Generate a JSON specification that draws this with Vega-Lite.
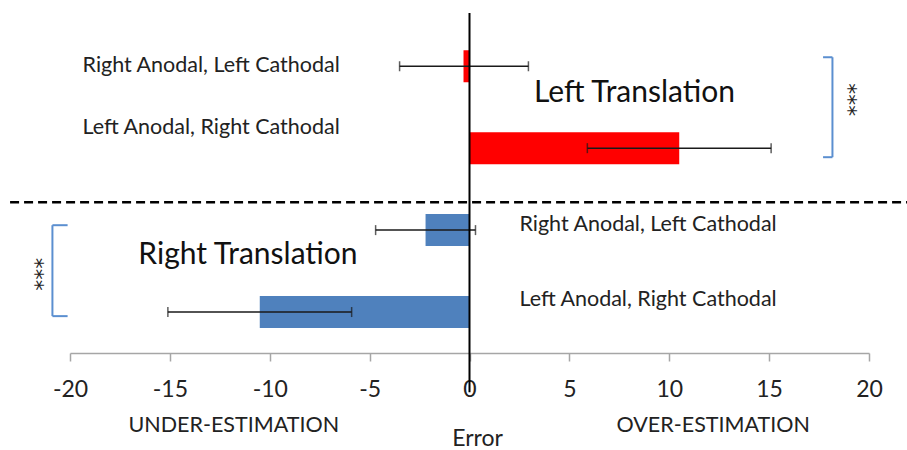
{
  "$schema": "https://vega.github.io/schema/vega-lite/v6.json",
  "width": 799,
  "height": 340,
  "autosize": "none",
  "padding": {"left": 70, "top": 13, "right": 38, "bottom": 97},
  "background": "white",
  "config": {"view": {"stroke": null}, "font": "Lato"},
  "datasets": {
    "bars": [
      {"group": "Left Translation", "condition": "Right Anodal, Left Cathodal", "pos": 3.5, "mean": -0.3, "lo": -3.5, "hi": 2.95},
      {"group": "Left Translation", "condition": "Left Anodal, Right Cathodal", "pos": 2.5, "mean": 10.5, "lo": 5.9, "hi": 15.1},
      {"group": "Right Translation", "condition": "Right Anodal, Left Cathodal", "pos": 1.5, "mean": -2.2, "lo": -4.7, "hi": 0.3},
      {"group": "Right Translation", "condition": "Left Anodal, Right Cathodal", "pos": 0.5, "mean": -10.5, "lo": -15.1, "hi": -5.9}
    ],
    "rowLabels": [
      {"text": "Right Anodal, Left Cathodal", "x": -19.37, "y": 3.5},
      {"text": "Left Anodal, Right Cathodal", "x": -19.37, "y": 2.75},
      {"text": "Right Anodal, Left Cathodal", "x": 2.5, "y": 1.56},
      {"text": "Left Anodal, Right Cathodal", "x": 2.5, "y": 0.65}
    ],
    "groupLabels": [
      {"text": "Left Translation", "x": 8.26, "y": 3.17},
      {"text": "Right Translation", "x": -11.09, "y": 1.2}
    ],
    "estLabels": [
      {"text": "UNDER-ESTIMATION", "x": -11.8, "y": -0.89},
      {"text": "OVER-ESTIMATION", "x": 12.2, "y": -0.89}
    ],
    "stars": [
      {"text": "***", "x": 18.97, "y": 3.09},
      {"text": "***", "x": -21.73, "y": 0.96}
    ],
    "brackets": [
      {"x": 18.17, "x2": 18.17, "y": 3.61, "y2": 2.39},
      {"x": 17.7, "x2": 18.17, "y": 3.61, "y2": 3.61},
      {"x": 17.7, "x2": 18.17, "y": 2.39, "y2": 2.39},
      {"x": -20.88, "x2": -20.88, "y": 1.56, "y2": 0.45},
      {"x": -20.88, "x2": -20.12, "y": 1.56, "y2": 1.56},
      {"x": -20.88, "x2": -20.12, "y": 0.45, "y2": 0.45}
    ],
    "zeroLine": [{"x": 0, "y": -0.48, "y2": 4.15}],
    "divider": [{"x": -23, "x2": 22.5, "y": 1.84}]
  },
  "layer": [
    {
      "data": {"name": "bars"},
      "mark": {"type": "bar", "size": 32},
      "encoding": {
        "x": {
          "field": "mean",
          "type": "quantitative",
          "scale": {"domain": [-20, 20], "nice": false, "zero": false, "padding": 0},
          "axis": {
            "title": "Error",
            "values": [-20, -15, -10, -5, 0, 5, 10, 15, 20],
            "labelExpr": "replace(datum.label, '−', '-')",
            "labelFlush": false,
            "labelOverlap": false,
            "grid": false,
            "domainColor": "#a6a6a6",
            "domainWidth": 1.5,
            "tickColor": "#a6a6a6",
            "tickWidth": 1.5,
            "tickSize": 8,
            "labelFontSize": 23,
            "labelColor": "#222222",
            "labelPadding": 17,
            "titleFontSize": 23,
            "titleFontWeight": "normal",
            "titleColor": "#222222",
            "titlePadding": 26,
            "titleX": 407
          }
        },
        "x2": {"datum": 0},
        "y": {"field": "pos", "type": "quantitative", "scale": {"domain": [0, 4.15], "nice": false, "zero": false, "padding": 0}, "axis": null},
        "color": {"field": "group", "type": "nominal", "scale": {"domain": ["Left Translation", "Right Translation"], "range": ["#ff0000", "#4f81bd"]}, "legend": null}
      }
    },
    {
      "data": {"name": "bars"},
      "mark": {"type": "rule", "color": "#1a1a1a", "strokeWidth": 1.5},
      "encoding": {
        "x": {"field": "lo", "type": "quantitative"},
        "x2": {"field": "hi"},
        "y": {"field": "pos", "type": "quantitative"}
      }
    },
    {
      "data": {"name": "bars"},
      "mark": {"type": "tick", "orient": "vertical", "color": "#1a1a1a", "size": 10, "thickness": 1.5},
      "encoding": {
        "x": {"field": "lo", "type": "quantitative"},
        "y": {"field": "pos", "type": "quantitative"}
      }
    },
    {
      "data": {"name": "bars"},
      "mark": {"type": "tick", "orient": "vertical", "color": "#1a1a1a", "size": 10, "thickness": 1.5},
      "encoding": {
        "x": {"field": "hi", "type": "quantitative"},
        "y": {"field": "pos", "type": "quantitative"}
      }
    },
    {
      "data": {"name": "zeroLine"},
      "mark": {"type": "rule", "color": "#000000", "strokeWidth": 2},
      "encoding": {
        "x": {"field": "x", "type": "quantitative"},
        "y": {"field": "y", "type": "quantitative"},
        "y2": {"field": "y2"}
      }
    },
    {
      "data": {"name": "divider"},
      "mark": {"type": "rule", "color": "#000000", "strokeWidth": 2.5, "strokeDash": [9, 5]},
      "encoding": {
        "x": {"field": "x", "type": "quantitative"},
        "x2": {"field": "x2"},
        "y": {"field": "y", "type": "quantitative"}
      }
    },
    {
      "data": {"name": "brackets"},
      "mark": {"type": "rule", "color": "#5b8fd0", "strokeWidth": 2},
      "encoding": {
        "x": {"field": "x", "type": "quantitative"},
        "x2": {"field": "x2"},
        "y": {"field": "y", "type": "quantitative"},
        "y2": {"field": "y2"}
      }
    },
    {
      "data": {"name": "rowLabels"},
      "mark": {"type": "text", "align": "left", "baseline": "middle", "fontSize": 21.5, "color": "#222222"},
      "encoding": {
        "x": {"field": "x", "type": "quantitative"},
        "y": {"field": "y", "type": "quantitative"},
        "text": {"field": "text"}
      }
    },
    {
      "data": {"name": "groupLabels"},
      "mark": {"type": "text", "align": "center", "baseline": "middle", "fontSize": 30, "color": "#111111"},
      "encoding": {
        "x": {"field": "x", "type": "quantitative"},
        "y": {"field": "y", "type": "quantitative"},
        "text": {"field": "text"}
      }
    },
    {
      "data": {"name": "estLabels"},
      "mark": {"type": "text", "align": "center", "baseline": "middle", "fontSize": 21.5, "color": "#222222"},
      "encoding": {
        "x": {"field": "x", "type": "quantitative"},
        "y": {"field": "y", "type": "quantitative"},
        "text": {"field": "text"}
      }
    },
    {
      "data": {"name": "stars"},
      "mark": {"type": "text", "align": "center", "baseline": "middle", "font": "DejaVu Sans", "fontSize": 22, "angle": 90, "color": "#222222"},
      "encoding": {
        "x": {"field": "x", "type": "quantitative"},
        "y": {"field": "y", "type": "quantitative"},
        "text": {"field": "text"}
      }
    }
  ]
}
